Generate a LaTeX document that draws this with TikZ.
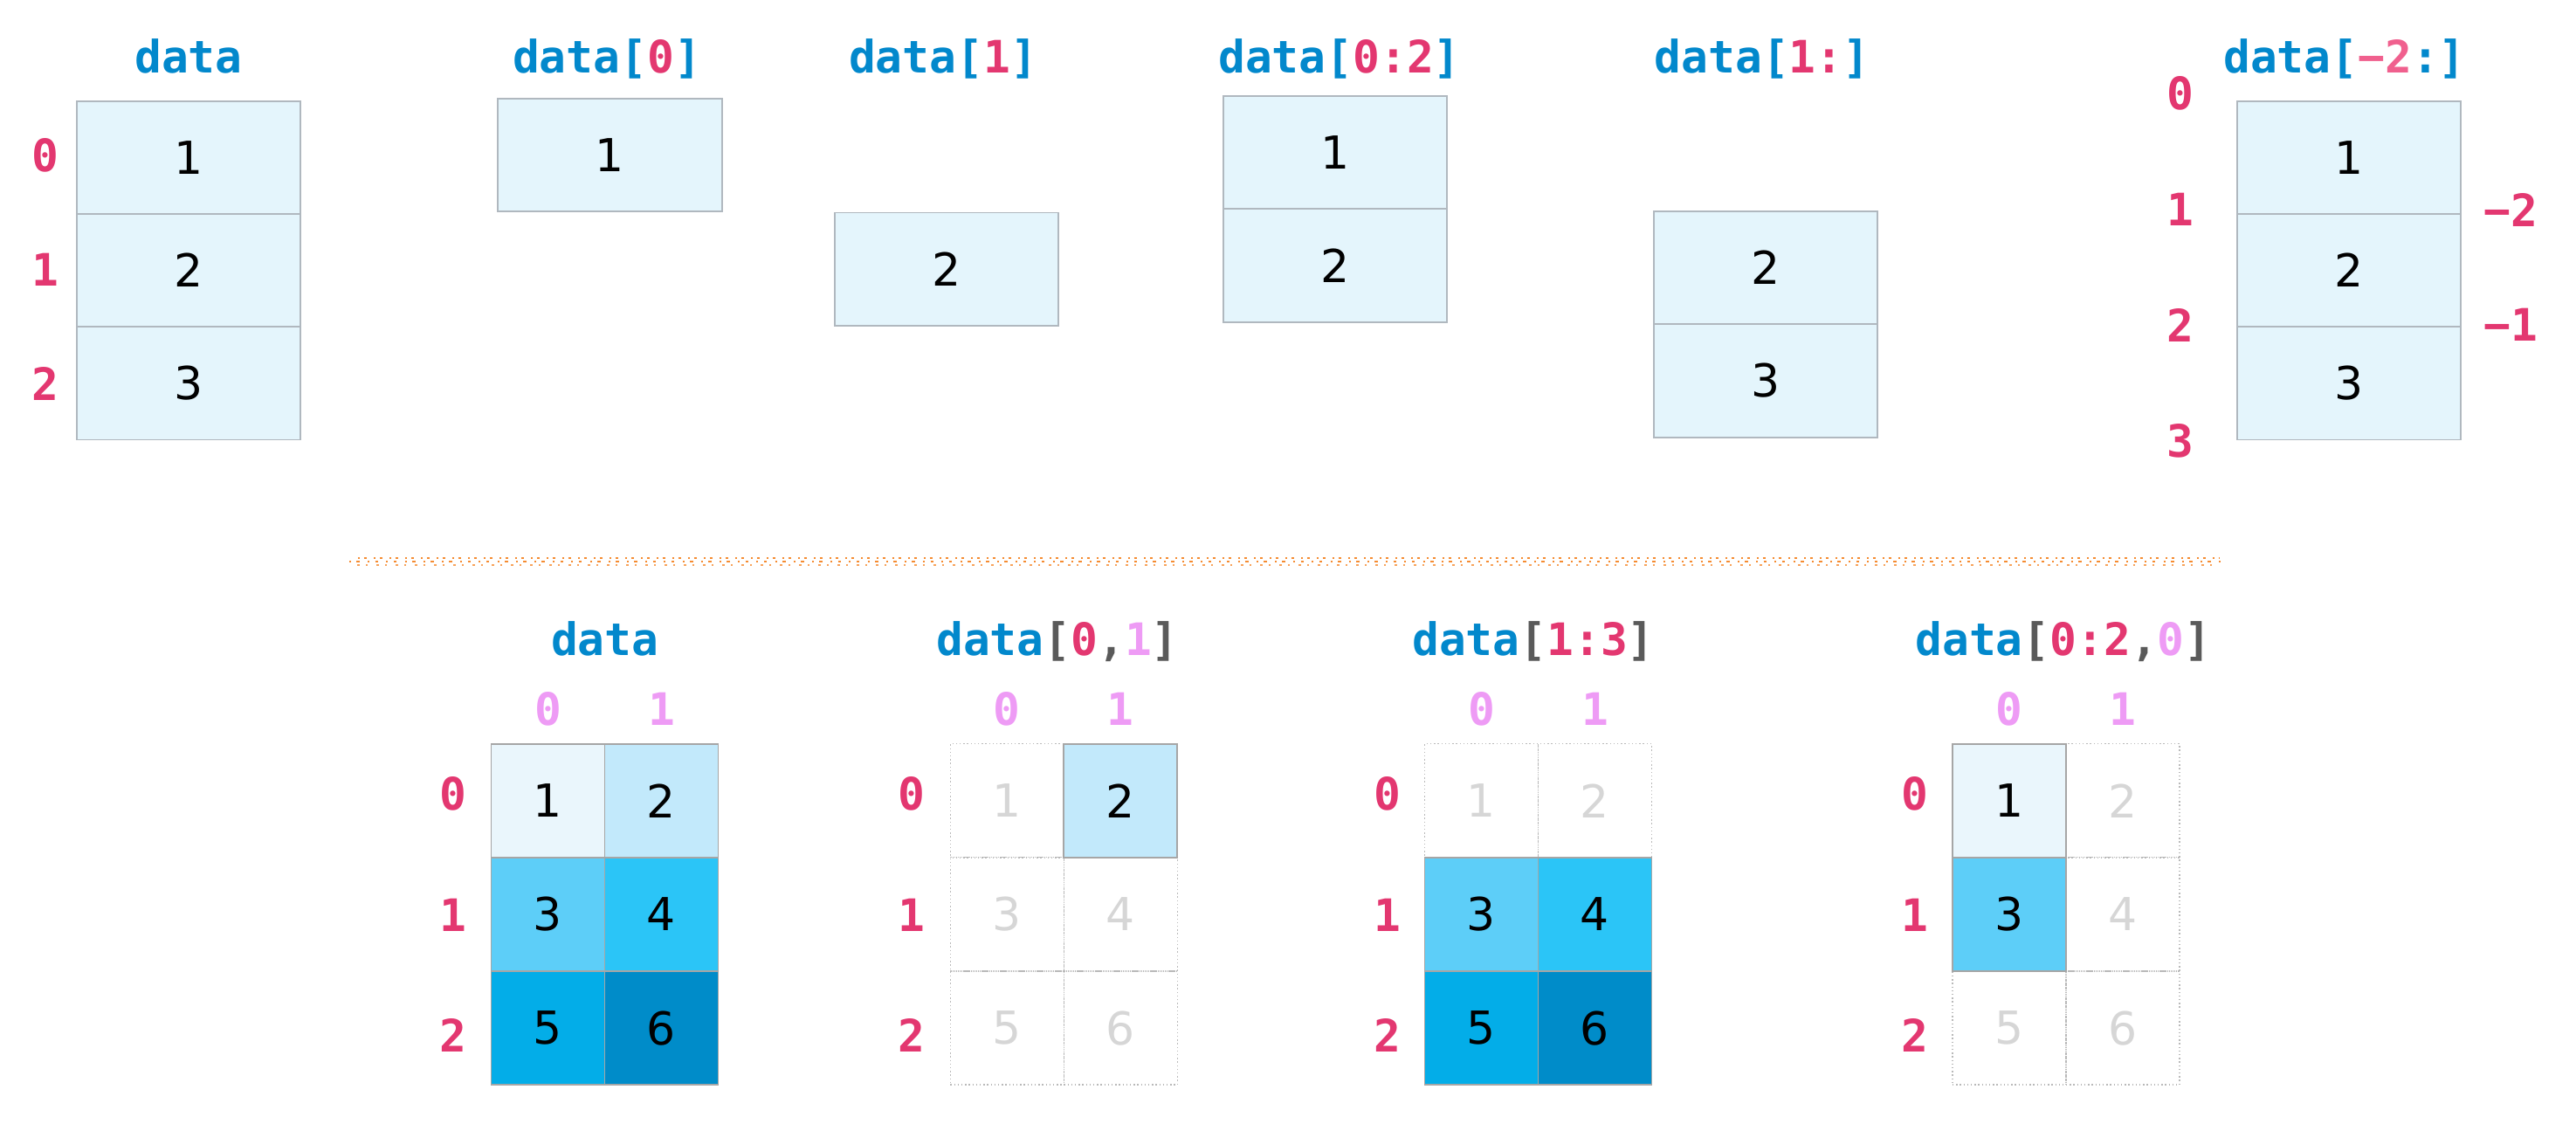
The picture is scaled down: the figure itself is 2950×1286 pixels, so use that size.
\documentclass[tikz,border=0pt]{standalone}
\usepackage{fontspec}
\setmainfont{DejaVu Sans}
\newfontfamily\codefont{DejaVu Sans Mono}
\definecolor{codeblue}{RGB}{2,136,204}
\definecolor{idxpink}{RGB}{227,55,112}
\definecolor{negpink}{RGB}{240,96,142}
\definecolor{idxviolet}{RGB}{238,155,245}
\definecolor{brgray}{RGB}{90,90,90}
\definecolor{dimtext}{RGB}{214,214,214}
\definecolor{topfill}{RGB}{228,245,252}
\definecolor{topborder}{RGB}{176,184,191}
\definecolor{gborder}{RGB}{166,166,166}
\definecolor{dimborder}{RGB}{185,185,185}
\definecolor{sepcol}{RGB}{245,140,50}
\definecolor{c1}{RGB}{234,246,252}
\definecolor{c2}{RGB}{194,233,251}
\definecolor{c3}{RGB}{93,206,248}
\definecolor{c4}{RGB}{43,197,247}
\definecolor{c5}{RGB}{3,173,232}
\definecolor{c6}{RGB}{0,140,201}
\tikzset{
  numfont/.style={font=\fontsize{13}{13}\selectfont},
  cellT/.style={numfont, draw=topborder, fill=topfill, line width=0.45pt,
    minimum width=64.15pt, minimum height=32.3pt, inner sep=0pt},
  gcell/.style={numfont, draw=gborder, line width=0.45pt,
    minimum width=32.5pt, minimum height=32.5pt, inner sep=0pt},
  dimcell/.style={numfont, draw=dimborder, dash pattern=on 0.35pt off 0.7pt, line width=0.35pt,
    minimum width=32.5pt, minimum height=32.5pt, inner sep=0pt, text=dimtext},
  hdr/.style={anchor=base, inner sep=0pt, text=codeblue,
    font=\codefont\bfseries\fontsize{12.8}{13}\selectfont},
  idx/.style={inner sep=0pt, text=idxpink,
    font=\codefont\bfseries\fontsize{12.8}{13}\selectfont},
  cidx/.style={idx, text=idxviolet},
  sepa/.style={draw=sepcol, line width=0.55pt, dash pattern=on 0.5pt off 1.6pt on 0.9pt off 2.3pt},
  sepb/.style={draw=sepcol, line width=0.45pt, dash pattern=on 0.7pt off 2.1pt on 0.4pt off 1.3pt, dash phase=0.8pt},
  sepc/.style={draw=sepcol!80, line width=0.4pt, dash pattern=on 0.4pt off 2.6pt on 0.6pt off 1.9pt, dash phase=1.7pt},
}
\newcommand{\pk}[1]{\textcolor{idxpink}{#1}}
\newcommand{\vi}[1]{\textcolor{idxviolet}{#1}}
\newcommand{\gy}[1]{\textcolor{brgray}{#1}}
\begin{document}
\begin{tikzpicture}[x=0.25pt,y=-0.25pt]
\useasboundingbox (0,0) rectangle (2950,1286);
\fill[white] (0,0) rectangle (2950,1286);

% ---------- top row ----------
% data
\node[hdr] (h1) at (216,83) {data};
\node[cellT] (t1a) at (216,180.2) {1};
\node[cellT] (t1b) at (216,309.5) {2};
\node[cellT] (t1c) at (216,438.8) {3};
\node[idx] (l1a) at (52,177.6) {0};
\node[idx] (l1b) at (52,309) {1};
\node[idx] (l1c) at (52,439.7) {2};

% data[0]
\node[hdr] (h2) at (695,83) {data[\pk{0}]};
\node[cellT] (t2a) at (698.5,177.5) {1};

% data[1]
\node[hdr] (h3) at (1080,83) {data[\pk{1}]};
\node[cellT] (t3a) at (1084,308) {2};

% data[0:2]
\node[hdr] (h4) at (1534,83) {data[\pk{0:2}]};
\node[cellT] (t4a) at (1529,174.7) {1};
\node[cellT] (t4b) at (1529,304) {2};

% data[1:]
\node[hdr] (h5) at (2018,83) {data[\pk{1:}]};
\node[cellT] (t5a) at (2022,306.5) {2};
\node[cellT] (t5b) at (2022,436) {3};

% data[-2:]
\node[hdr] (h6) at (2685,83) {data[\textcolor{negpink}{−2}:]};
\node[cellT] (t6a) at (2690,180.2) {1};
\node[cellT] (t6b) at (2690,309.5) {2};
\node[cellT] (t6c) at (2690,438.8) {3};
\node[idx] (l6a) at (2496.5,107) {0};
\node[idx] (l6b) at (2496.5,240) {1};
\node[idx] (l6c) at (2496.5,372) {2};
\node[idx] (l6d) at (2496.5,505) {3};
\node[idx] (n6a) at (2875,240) {−2};
\node[idx] (n6b) at (2875,372) {−1};

% ---------- separator ----------
\coordinate (s1) at (400,643);
\coordinate (s2) at (2543,643);
\coordinate (s1u) at (402,639);
\coordinate (s2u) at (2541,639);
\coordinate (s1d) at (404,647);
\coordinate (s2d) at (2540,647);
\draw[sepa] (s1) -- (s2);
\draw[sepb] (s1u) -- (s2u);
\draw[sepc] (s1d) -- (s2d);

% ---------- bottom row ----------
% grid 1: data
\node[hdr] (g1h) at (692.7,750) {data};
\node[cidx] (g1c0) at (627.5,811.5) {0};
\node[cidx] (g1c1) at (757.5,811.5) {1};
\foreach \r/\y in {0/908.5,1/1047.6,2/1185}
  \node[idx] (g1r\r) at (519,\y) {\r};
\foreach \r/\c/\v/\col in {0/0/1/c1,0/1/2/c2,1/0/3/c3,1/1/4/c4,2/0/5/c5,2/1/6/c6}
  \node[gcell, fill=\col] (ga-\r-\c) at ({627.5+130*\c},{916.75+130.2*\r}) {\v};

% grid 2: data[0,1]
\node[hdr] (g2h) at (1211,750) {data\gy{[}\pk{0}\gy{,}\vi{1}\gy{]}};
\node[cidx] (g2c0) at (1153.3,811.5) {0};
\node[cidx] (g2c1) at (1283.3,811.5) {1};
\foreach \r/\y in {0/908.5,1/1047.6,2/1185}
  \node[idx] (g2r\r) at (1044,\y) {\r};
\foreach \r/\c/\v in {0/0/1,1/0/3,1/1/4,2/0/5,2/1/6}
  \node[dimcell] (gb-\r-\c) at ({1153.3+130*\c},{916.75+130.2*\r}) {\v};
\node[gcell, fill=c2] (gb-0-1) at (1283.3,916.75) {2};

% grid 3: data[1:3]
\node[hdr] (g3h) at (1756,750) {data\gy{[}\pk{1:3}\gy{]}};
\node[cidx] (g3c0) at (1696.5,811.5) {0};
\node[cidx] (g3c1) at (1826.5,811.5) {1};
\foreach \r/\y in {0/908.5,1/1047.6,2/1185}
  \node[idx] (g3r\r) at (1588.5,\y) {\r};
\foreach \r/\c/\v in {0/0/1,0/1/2}
  \node[dimcell] (gc-\r-\c) at ({1696.5+130*\c},{916.75+130.2*\r}) {\v};
\foreach \r/\c/\v/\col in {1/0/3/c3,1/1/4/c4,2/0/5/c5,2/1/6/c6}
  \node[gcell, fill=\col] (gc-\r-\c) at ({1696.5+130*\c},{916.75+130.2*\r}) {\v};

% grid 4: data[0:2,0]
\node[hdr] (g4h) at (2363,750) {data\gy{[}\pk{0:2}\gy{,}\vi{0}\gy{]}};
\node[cidx] (g4c0) at (2301,811.5) {0};
\node[cidx] (g4c1) at (2431,811.5) {1};
\foreach \r/\y in {0/908.5,1/1047.6,2/1185}
  \node[idx] (g4r\r) at (2193,\y) {\r};
\foreach \r/\c/\v in {0/1/2,1/1/4,2/0/5,2/1/6}
  \node[dimcell] (gd-\r-\c) at ({2301+130*\c},{916.75+130.2*\r}) {\v};
\foreach \r/\c/\v/\col in {0/0/1/c1,1/0/3/c3}
  \node[gcell, fill=\col] (gd-\r-\c) at ({2301+130*\c},{916.75+130.2*\r}) {\v};
\end{tikzpicture}
\end{document}
